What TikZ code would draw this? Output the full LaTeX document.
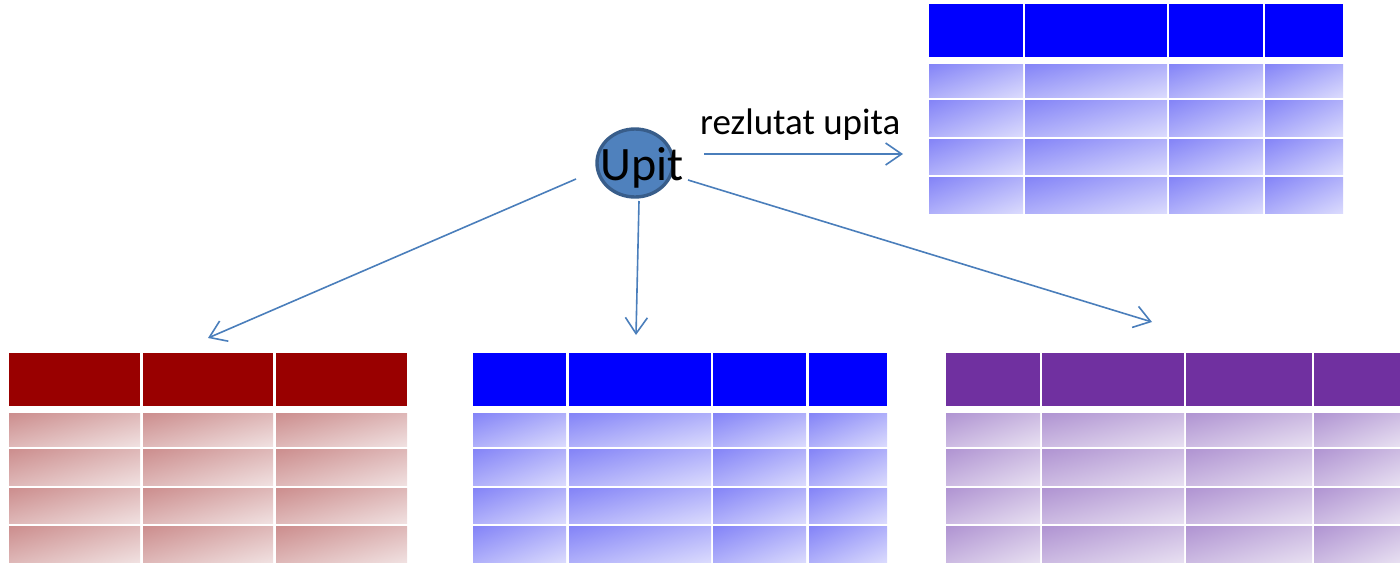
\documentclass[tikz,border=0pt]{standalone}
\usepackage{fontspec}
\setmainfont{Carlito}
\usetikzlibrary{arrows.meta,shapes.geometric}

\definecolor{hdrblue}{RGB}{0,0,255}
\definecolor{hdrred}{RGB}{153,0,0}
\definecolor{hdrpurple}{RGB}{112,48,160}
\definecolor{blueA}{RGB}{132,132,247}
\definecolor{blueB}{RGB}{218,218,253}
\definecolor{redA}{RGB}{204,142,142}
\definecolor{redB}{RGB}{240,224,224}
\definecolor{purA}{RGB}{176,148,210}
\definecolor{purB}{RGB}{231,223,241}
\definecolor{arrowblue}{RGB}{74,126,187}
\definecolor{ovalfill}{RGB}{79,129,189}
\definecolor{ovaledge}{RGB}{56,93,138}

% body-cell gradients, spread so that a 45-degree rotation on a square
% runs from one corner to the opposite one
\pgfdeclareverticalshading{bluecell}{100bp}{color(0bp)=(blueB); color(15bp)=(blueB); color(85bp)=(blueA); color(100bp)=(blueA)}
\pgfdeclareverticalshading{redcell}{100bp}{color(0bp)=(redB); color(15bp)=(redB); color(85bp)=(redA); color(100bp)=(redA)}
\pgfdeclareverticalshading{purcell}{100bp}{color(0bp)=(purB); color(15bp)=(purB); color(85bp)=(purA); color(100bp)=(purA)}

% #1 column spans, #2 header colour, #3 body shading, #4 top edge
% each body cell is a unit square stretched onto the cell
\newcommand{\celltable}[4]{%
  \foreach \xa/\xb in {#1} {
    \fill[#2] (\xa,#4) rectangle (\xb,#4+53);
    \foreach \ya/\yb in {60/93,96/132,135/170,173/209} {
      \pgfmathsetmacro{\cw}{\xb-\xa}
      \pgfmathsetmacro{\ch}{\yb-\ya}
      \begin{scope}[transform canvas={shift={(\xa,#4+\ya)}, xscale=\cw, yscale=\ch}]
        \shade[shading=#3, shading angle=45] (0,0) rectangle (1,1);
      \end{scope}
    }
  }%
}

\tikzset{
  link/.style={draw=arrowblue, line width=1.6pt,
    -{Straight Barb[length=16pt,width=22pt,line width=1.6pt]}},
}

\begin{document}
\begin{tikzpicture}[x=1pt,y=-1pt]
  \useasboundingbox (0,0) rectangle (1400,563);

  % result table (top right)
  \celltable{929/1023,1025/1167,1169/1263,1265/1343}{hdrblue}{bluecell}{4}
  % source tables (bottom row)
  \celltable{9/140,143/273,276/407}{hdrred}{redcell}{353}
  \celltable{473/566,569/711,713/806,809/887}{hdrblue}{bluecell}{353}
  \celltable{946/1040,1042/1184,1186/1312,1314/1400}{hdrpurple}{purcell}{353}

  % query oval
  \node[ellipse, minimum width=76pt, minimum height=68pt, inner sep=0pt,
        fill=ovalfill, draw=ovaledge, line width=3.4pt] (upit) at (635,163) {};
  \node[anchor=base, inner sep=0pt, font=\fontsize{48}{50}\selectfont]
        (upittext) at (642,180) {Upit};

  % connector end points
  \coordinate (resStart) at (704,154);
  \coordinate (resEnd)   at (903,154);
  \coordinate (lStart)   at (576,179);
  \coordinate (lEnd)     at (208,338);
  \coordinate (mStart)   at (639,201);
  \coordinate (mEnd)     at (636,335);
  \coordinate (rStart)   at (688,180);
  \coordinate (rEnd)     at (1152,322);

  \draw[link] (resStart) -- (resEnd);
  \draw[link] (lStart) -- (lEnd);
  \draw[link] (mStart) -- (mEnd);
  \draw[link] (rStart) -- (rEnd);

  \node[anchor=base west, inner sep=0pt, font=\fontsize{37}{40}\selectfont]
        (reslabel) at (700,134) {rezlutat upita};
\end{tikzpicture}
\end{document}
